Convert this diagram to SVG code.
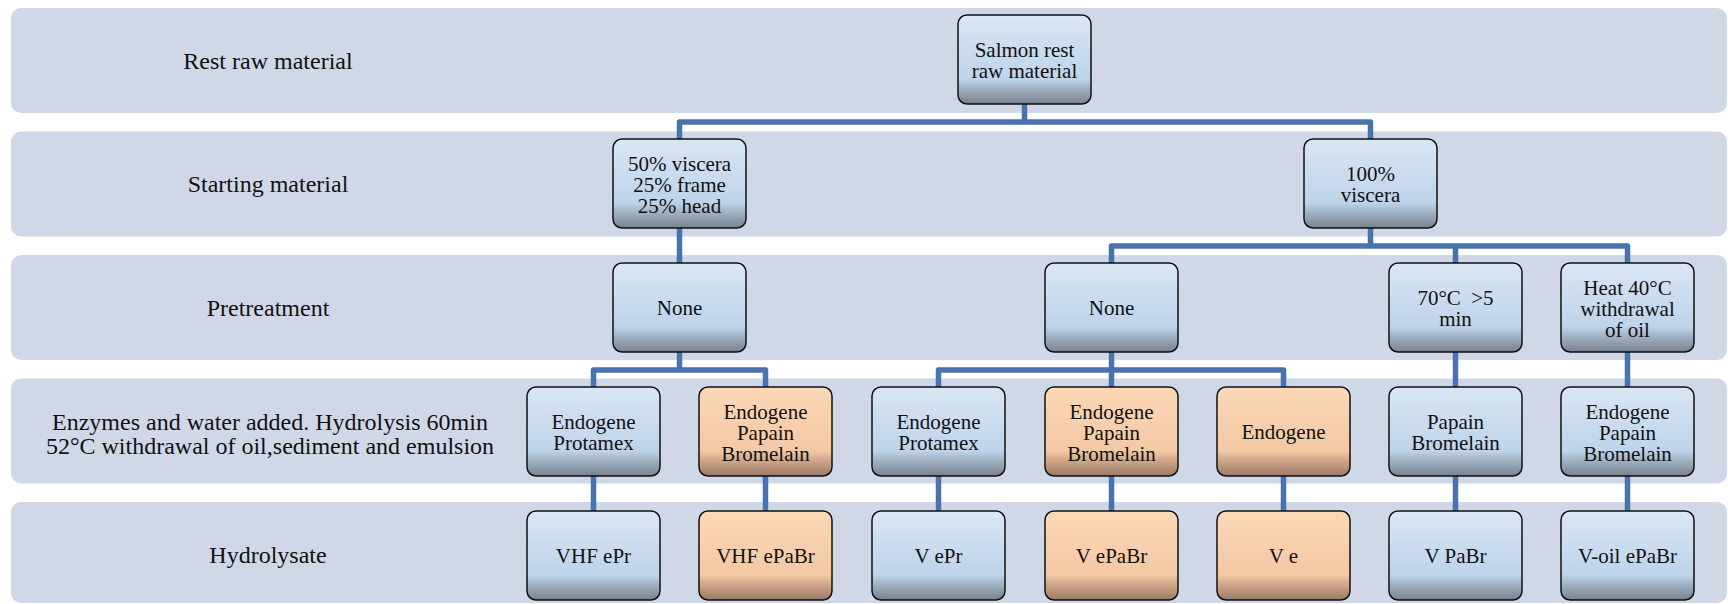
<svg xmlns="http://www.w3.org/2000/svg" width="1728" height="604" viewBox="0 0 1728 604">
<defs>
<linearGradient id="gb" x1="0" y1="0" x2="0" y2="1">
<stop offset="0" stop-color="#DAE6F3"/>
<stop offset="0.72" stop-color="#BED3EA"/>
<stop offset="0.8" stop-color="#A8B9CB"/>
<stop offset="1" stop-color="#77818D"/>
</linearGradient>
<linearGradient id="go" x1="0" y1="0" x2="0" y2="1">
<stop offset="0" stop-color="#FCD8B6"/>
<stop offset="0.72" stop-color="#F3C8A5"/>
<stop offset="0.8" stop-color="#D8AE8E"/>
<stop offset="1" stop-color="#9A7966"/>
</linearGradient>
</defs>
<style>
.band{fill:#D0D8E7}
text{font-family:'Liberation Serif','Times New Roman',Times,'DejaVu Serif',serif;fill:#111;text-anchor:middle}
.lbl{font-size:24px}
.nb{fill:url(#gb);stroke:#111;stroke-width:1.5}
.no{fill:url(#go);stroke:#111;stroke-width:1.5}
.nt{font-size:21px}
.con{fill:none;stroke:#4873AC;stroke-width:5.5;stroke-linejoin:round}
</style>
<rect width="1728" height="604" fill="#fff"/>
<g id="bands">
<rect class="band" x="11" y="8" width="1716" height="105" rx="10"/>
<rect class="band" x="11" y="131.5" width="1716" height="105" rx="10"/>
<rect class="band" x="11" y="255" width="1716" height="105" rx="10"/>
<rect class="band" x="11" y="378.5" width="1716" height="105" rx="10"/>
<rect class="band" x="11" y="502" width="1716" height="101" rx="10"/>
</g>
<g id="labels" font-family="'Liberation Serif', 'Times New Roman', serif">
<text class="lbl" x="268" y="69">Rest raw material</text>
<text class="lbl" x="268" y="192">Starting material</text>
<text class="lbl" x="268" y="316">Pretreatment</text>
<text class="lbl" x="270" y="430">Enzymes and water added. Hydrolysis 60min</text>
<text class="lbl" x="270" y="454">52°C withdrawal of oil,sediment and emulsion</text>
<text class="lbl" x="268" y="563">Hydrolysate</text>
</g>
<g id="connectors" class="con">
<path d="M679.5,139 V122 H1370.5 V139 M1024.5,104 V122"/>
<path d="M679.5,228 V263"/>
<path d="M1370.5,228 V246 M1111.5,263 V246 H1627.5 V263 M1455.5,246 V263"/>
<path d="M679.5,352 V370 M593.5,387 V370 H765.5 V387"/>
<path d="M1111.5,352 V387 M938.5,387 V370 H1283.5 V387"/>
<path d="M1455.5,352 V387 M1627.5,352 V387"/>
<path d="M593.5,476 V511 M765.5,476 V511 M938.5,476 V511 M1111.5,476 V511 M1283.5,476 V511 M1455.5,476 V511 M1627.5,476 V511"/>
</g>
<g id="n-salmon"><rect class="nb" x="958" y="15" width="133" height="89" rx="9"/><text class="nt" x="1024.5" y="57">Salmon rest</text><text class="nt" x="1024.5" y="78">raw material</text></g>
<g id="n-mix"><rect class="nb" x="613" y="139" width="133" height="89" rx="9"/><text class="nt" x="679.5" y="171">50% viscera</text><text class="nt" x="679.5" y="192">25% frame</text><text class="nt" x="679.5" y="213">25% head</text></g>
<g id="n-viscera"><rect class="nb" x="1304" y="139" width="133" height="89" rx="9"/><text class="nt" x="1370.5" y="181">100%</text><text class="nt" x="1370.5" y="202">viscera</text></g>
<g id="n-none1"><rect class="nb" x="613" y="263" width="133" height="89" rx="9"/><text class="nt" x="679.5" y="315">None</text></g>
<g id="n-none2"><rect class="nb" x="1045" y="263" width="133" height="89" rx="9"/><text class="nt" x="1111.5" y="315">None</text></g>
<g id="n-70c"><rect class="nb" x="1389" y="263" width="133" height="89" rx="9"/><text class="nt" x="1455.5" y="305" xml:space="preserve" style="white-space:pre">70°C  &gt;5</text><text class="nt" x="1455.5" y="326">min</text></g>
<g id="n-heat"><rect class="nb" x="1561" y="263" width="133" height="89" rx="9"/><text class="nt" x="1627.5" y="295">Heat 40°C</text><text class="nt" x="1627.5" y="316">withdrawal</text><text class="nt" x="1627.5" y="337">of oil</text></g>
<g id="n-e1"><rect class="nb" x="527" y="387" width="133" height="89" rx="9"/><text class="nt" x="593.5" y="429">Endogene</text><text class="nt" x="593.5" y="450">Protamex</text></g>
<g id="n-e2"><rect class="no" x="699" y="387" width="133" height="89" rx="9"/><text class="nt" x="765.5" y="419">Endogene</text><text class="nt" x="765.5" y="440">Papain</text><text class="nt" x="765.5" y="461">Bromelain</text></g>
<g id="n-e3"><rect class="nb" x="872" y="387" width="133" height="89" rx="9"/><text class="nt" x="938.5" y="429">Endogene</text><text class="nt" x="938.5" y="450">Protamex</text></g>
<g id="n-e4"><rect class="no" x="1045" y="387" width="133" height="89" rx="9"/><text class="nt" x="1111.5" y="419">Endogene</text><text class="nt" x="1111.5" y="440">Papain</text><text class="nt" x="1111.5" y="461">Bromelain</text></g>
<g id="n-e5"><rect class="no" x="1217" y="387" width="133" height="89" rx="9"/><text class="nt" x="1283.5" y="439">Endogene</text></g>
<g id="n-e6"><rect class="nb" x="1389" y="387" width="133" height="89" rx="9"/><text class="nt" x="1455.5" y="429">Papain</text><text class="nt" x="1455.5" y="450">Bromelain</text></g>
<g id="n-e7"><rect class="nb" x="1561" y="387" width="133" height="89" rx="9"/><text class="nt" x="1627.5" y="419">Endogene</text><text class="nt" x="1627.5" y="440">Papain</text><text class="nt" x="1627.5" y="461">Bromelain</text></g>
<g id="n-h1"><rect class="nb" x="527" y="511" width="133" height="89" rx="9"/><text class="nt" x="593.5" y="563">VHF ePr</text></g>
<g id="n-h2"><rect class="no" x="699" y="511" width="133" height="89" rx="9"/><text class="nt" x="765.5" y="563">VHF ePaBr</text></g>
<g id="n-h3"><rect class="nb" x="872" y="511" width="133" height="89" rx="9"/><text class="nt" x="938.5" y="563">V ePr</text></g>
<g id="n-h4"><rect class="no" x="1045" y="511" width="133" height="89" rx="9"/><text class="nt" x="1111.5" y="563">V ePaBr</text></g>
<g id="n-h5"><rect class="no" x="1217" y="511" width="133" height="89" rx="9"/><text class="nt" x="1283.5" y="563">V e</text></g>
<g id="n-h6"><rect class="nb" x="1389" y="511" width="133" height="89" rx="9"/><text class="nt" x="1455.5" y="563">V PaBr</text></g>
<g id="n-h7"><rect class="nb" x="1561" y="511" width="133" height="89" rx="9"/><text class="nt" x="1627.5" y="563">V-oil ePaBr</text></g>
</svg>
